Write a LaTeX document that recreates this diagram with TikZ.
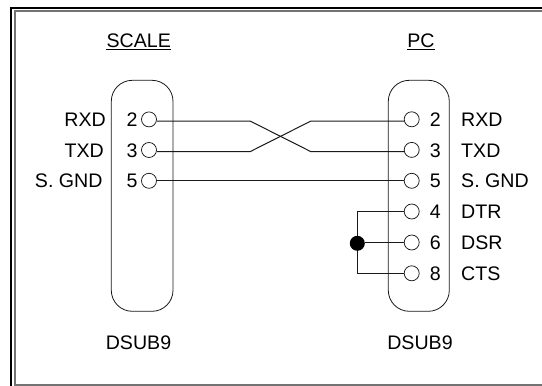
\documentclass[tikz,border=0pt]{standalone}
\usepackage{fontspec}
\setmainfont{Liberation Sans}
\tikzset{
  x=1pt,y=-1pt,
  wire/.style={line width=1pt,draw=black!90},
  shell/.style={line width=0.8pt,draw=black!90,rounded corners=21pt},
  pin/.style={circle,draw=black!90,fill=white,line width=0.75pt,minimum size=15pt,inner sep=0pt},
  txt/.style={inner sep=0pt,font=\fontsize{19.6pt}{22pt}\selectfont},
  dot/.style={circle,fill=black,inner sep=0pt,minimum size=15pt}
}
\begin{document}
\begin{tikzpicture}
\useasboundingbox (0,0) rectangle (542,386);
\draw[line width=2.1pt,black] (11,386) -- (11,8) -- (542,8);
\draw[line width=1.8pt,black!55] (15,386) -- (15,11) -- (542,11);
\draw[line width=1.8pt,black!55] (15,385) -- (542,385);
\draw[shell] (111.3,80.3) rectangle (173,311.3);
\draw[shell] (388.3,80.3) rectangle (449.3,311.3);
\node[txt] (scale) at (138.8,40.8) {SCALE};
\node[txt] (pc) at (421,40.8) {PC};
\draw[line width=0.9pt] ([yshift=-1.4pt]scale.south west) -- ([yshift=-1.4pt]scale.south east);
\draw[line width=0.9pt] ([yshift=-1.4pt]pc.south west) -- ([yshift=-1.4pt]pc.south east);
\node[txt,anchor=east] (lr) at (106,119.7) {RXD};
\node[txt,anchor=east] (lt) at (104,150.6) {TXD};
\node[txt,anchor=east] (lg) at (102.7,181) {S. GND};
\node[txt] (l2) at (132,119.7) {2};
\node[txt] (l3) at (132,150.6) {3};
\node[txt] (l5) at (132,181) {5};
\node[pin] (a2) at (149,119.4) {};
\node[pin] (a3) at (149,150) {};
\node[pin] (a5) at (149,180.8) {};
\node[pin] (b2) at (411.7,119.3) {};
\node[pin] (b3) at (411.7,149.9) {};
\node[pin] (b5) at (411.7,180.8) {};
\node[pin] (b4) at (411.7,211.5) {};
\node[pin] (b6) at (411.7,242.5) {};
\node[pin] (b8) at (411.7,273.3) {};
\node[txt] (r2) at (435.2,119.7) {2};
\node[txt] (r3) at (435.2,150.8) {3};
\node[txt] (r5) at (435.2,181) {5};
\node[txt] (r4) at (435.2,212) {4};
\node[txt] (r6) at (435.2,243) {6};
\node[txt] (r8) at (435.2,273.7) {8};
\node[txt,anchor=west] (n2) at (461,119.7) {RXD};
\node[txt,anchor=west] (n3) at (461,150.8) {TXD};
\node[txt,anchor=west] (n5) at (461,181) {S. GND};
\node[txt,anchor=west] (n4) at (461,212) {DTR};
\node[txt,anchor=west] (n6) at (461,243) {DSR};
\node[txt,anchor=west] (n8) at (461,273.7) {CTS};
\node[txt] (d1) at (138.5,342.7) {DSUB9};
\node[txt] (d2) at (420,342.7) {DSUB9};
\coordinate (c1) at (250,121);
\coordinate (c2) at (311,151.7);
\coordinate (c3) at (250,151.7);
\coordinate (c4) at (311,121);
\coordinate (j4) at (357.3,211.5);
\coordinate (j8) at (357.3,273.3);
\draw[wire] ([yshift=-1.6pt]a2.east) -- (c1) -- (c2) -- ([yshift=-1.8pt]b3.west);
\draw[wire] ([yshift=-1.7pt]a3.east) -- (c3) -- (c4) -- ([yshift=-1.7pt]b2.west);
\draw[wire] (a5.east) -- (b5.west);
\draw[wire] (b4.west) -- (j4) -- (j8) -- (b8.west);
\node[dot] (j) at (357.3,243.3) {};
\draw[wire] (b6.west) -- (b6.west -| j.east);
\end{tikzpicture}
\end{document}
